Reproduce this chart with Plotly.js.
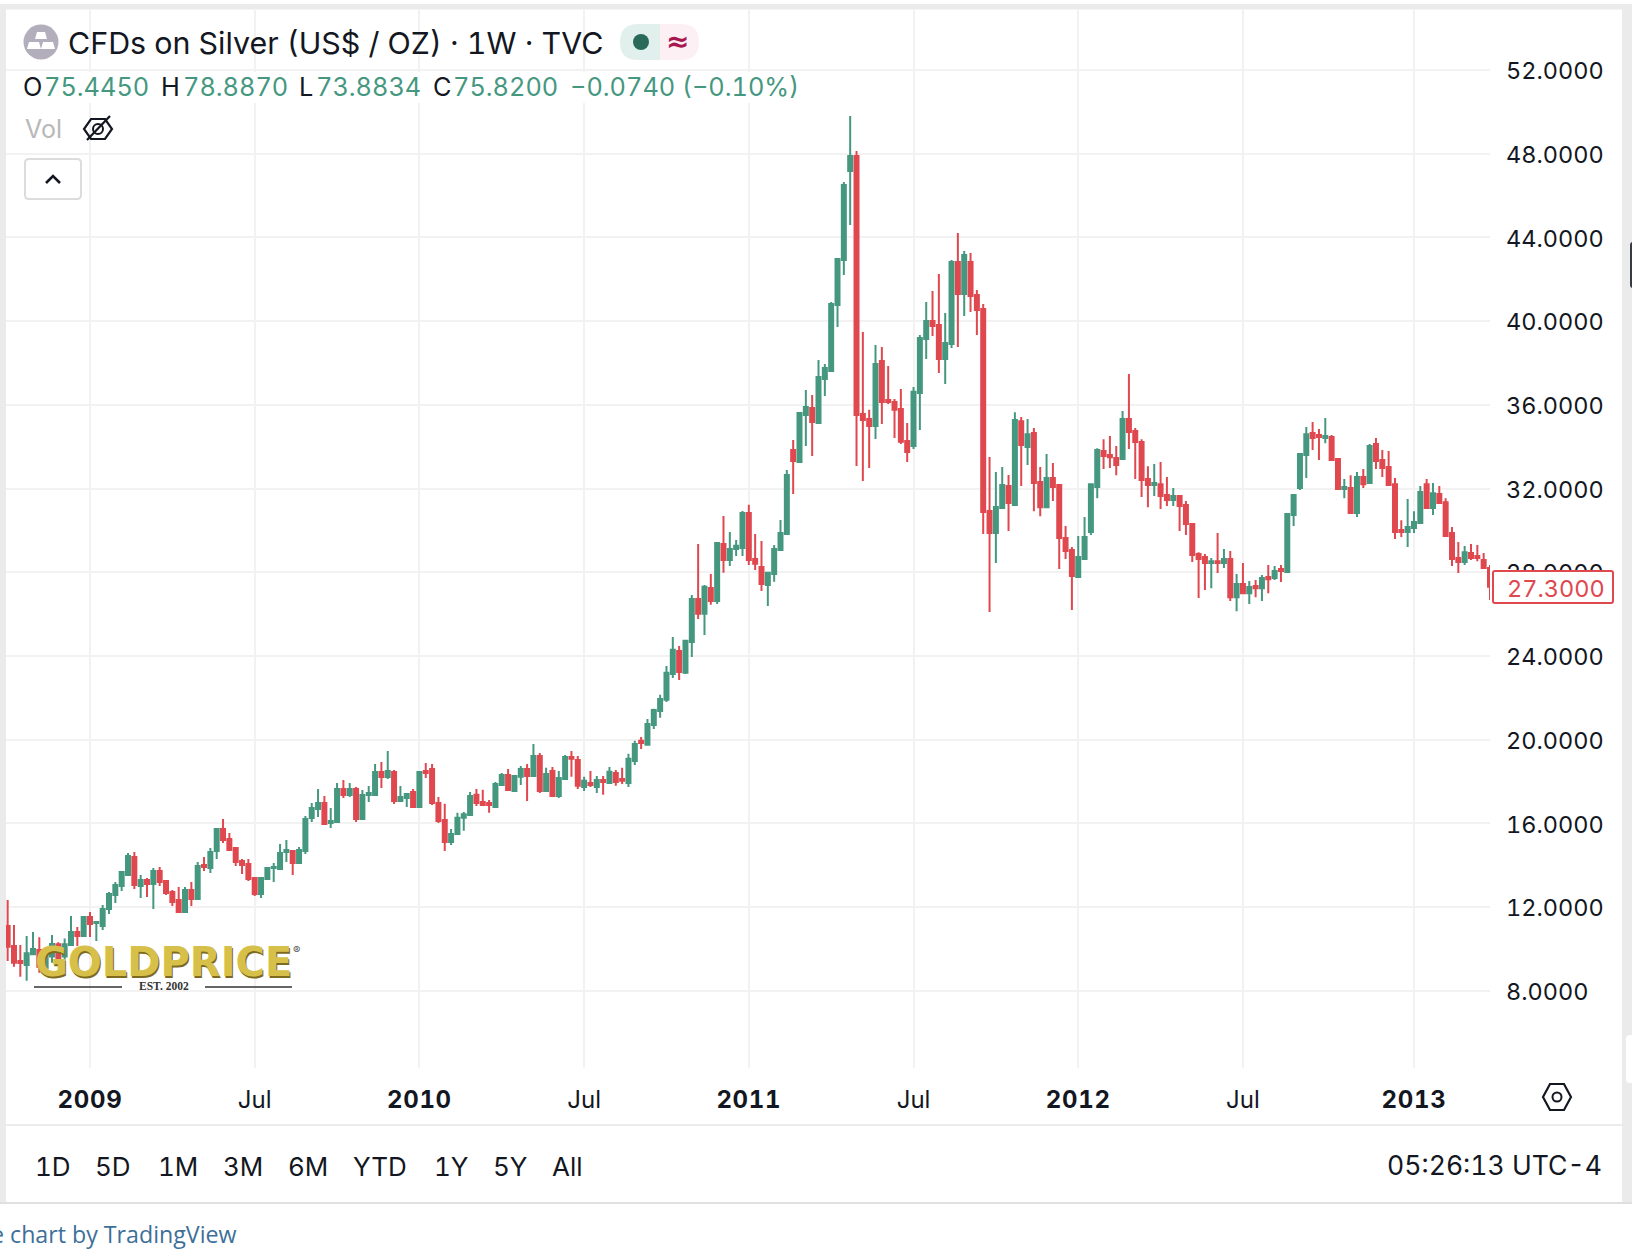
<!DOCTYPE html>
<html><head><meta charset="utf-8">
<script src="https://cdn.plot.ly/plotly-3.0.1.min.js"></script>
<style>html,body{margin:0;padding:0;background:#fff;overflow:hidden}#chart{width:1632px;height:1260px}
svg text{font-variant-numeric:tabular-nums;font-feature-settings:"tnum" 1}
.xtick tspan{letter-spacing:.7px}</style>
</head><body><div id="chart"></div>
<script>
const open_ = [
11.09,10.14,9.42,9.23,9.74,9.95,9.07,9.63,10.22,9.63,
10.18,10.81,10.61,11.52,11.24,11.09,11.90,12.57,13.00,13.53,
14.39,13.00,13.29,13.10,13.72,13.24,12.72,12.33,11.76,12.81,
12.38,14.01,13.86,14.68,15.73,15.25,14.82,14.20,14.06,13.39,
12.62,13.34,13.86,13.82,14.63,14.68,14.10,14.68,16.25,16.68,
16.97,16.02,16.06,17.64,17.35,17.64,16.21,17.35,17.35,18.45,
18.21,18.45,17.07,17.21,17.50,16.78,18.50,18.60,16.97,16.16,
15.11,15.49,16.26,16.40,17.36,17.02,16.97,16.78,17.83,18.31,
17.55,18.22,18.60,18.26,19.22,17.55,18.50,17.31,18.12,19.17,
19.03,17.74,17.93,17.74,18.07,17.93,18.41,18.12,17.93,18.98,
19.94,19.75,20.70,21.37,21.90,23.14,24.24,23.19,24.67,26.72,
26.01,27.25,26.63,29.35,28.59,29.11,29.16,30.83,28.63,28.25,
27.39,27.92,29.06,29.83,33.84,33.27,35.52,35.85,35.13,37.24,
37.62,40.77,42.92,47.18,47.89,35.56,35.32,34.99,38.10,36.23,
36.14,35.80,34.27,34.03,36.57,39.15,40.01,39.82,38.19,38.91,
42.83,41.30,42.83,41.25,40.58,30.93,29.88,31.07,32.12,31.21,
35.22,33.98,34.65,32.31,31.11,32.50,32.17,29.63,29.06,27.77,
28.63,29.92,32.07,33.79,33.60,33.46,33.41,35.32,34.75,34.22,
32.45,32.17,32.21,31.69,31.45,31.64,31.21,30.30,28.87,28.73,
28.44,28.53,28.44,28.63,26.81,27.44,27.00,27.34,27.24,27.77,
27.72,28.15,28.01,30.73,32.02,33.60,34.65,34.56,34.41,34.46,
33.41,31.98,32.02,30.83,32.55,32.26,34.13,33.36,33.03,32.21,
30.02,29.92,30.11,30.35,32.21,31.07,31.74,31.35,29.87,28.68,
28.49,28.92,28.77,28.58,28.20];
const high = [
12.34,11.14,10.18,10.61,10.81,10.55,10.03,10.66,10.31,10.50,
11.57,11.04,11.57,11.76,11.28,12.10,12.72,13.20,13.72,14.58,
14.63,13.53,13.39,13.86,13.91,13.29,12.81,12.96,12.96,13.20,
14.15,14.39,14.82,15.73,16.21,15.54,14.87,14.29,14.29,13.43,
13.43,13.91,14.10,15.01,15.20,14.72,14.87,16.35,16.97,17.64,
17.30,16.73,17.93,18.07,17.93,17.74,17.59,17.78,18.84,18.93,
19.46,18.55,17.78,17.45,17.64,18.45,18.88,18.84,17.26,16.93,
15.73,16.50,16.54,17.50,17.64,17.60,17.12,17.98,18.41,18.60,
18.31,18.74,18.84,19.79,19.36,18.65,18.69,18.50,19.27,19.46,
19.22,18.22,18.50,18.26,18.26,18.69,18.55,18.65,19.32,19.94,
20.13,20.99,21.47,22.14,23.52,24.91,24.48,24.72,26.91,29.35,
27.39,27.92,29.40,30.69,29.92,29.54,30.93,31.22,29.83,29.49,
28.01,29.30,30.50,32.89,34.32,35.61,36.71,36.47,38.14,37.95,
40.92,43.02,46.65,49.81,48.13,39.48,35.76,38.86,38.77,37.86,
36.28,36.76,35.13,36.85,39.34,40.92,41.44,42.25,40.39,42.92,
44.21,43.35,43.26,41.49,40.82,33.51,32.79,33.03,32.65,35.65,
35.42,35.32,34.89,33.03,33.65,33.22,32.21,30.21,29.20,29.73,
30.64,32.21,33.93,34.36,34.51,34.03,35.70,37.47,34.89,34.36,
33.07,33.17,33.27,32.55,32.02,31.69,31.40,30.35,28.96,28.87,
28.68,29.87,29.11,29.01,27.91,28.44,27.58,27.63,27.87,28.34,
28.30,28.34,30.83,31.74,33.70,34.94,35.18,34.84,35.37,34.56,
33.41,32.45,32.64,32.79,32.93,34.13,34.41,33.84,33.79,32.50,
30.49,31.50,30.92,32.12,32.45,32.26,32.12,31.54,30.16,29.44,
29.25,29.35,29.30,28.92,28.34];
const low = [
9.42,9.15,8.67,8.48,9.71,8.86,9.07,9.34,9.47,9.39,
10.18,10.14,10.61,10.57,10.38,10.90,11.67,12.19,12.77,13.53,
12.86,12.43,12.48,11.90,13.00,12.57,12.05,11.76,11.76,12.05,
12.38,13.72,13.63,14.29,15.06,14.72,13.96,13.58,13.24,12.53,
12.43,13.34,13.20,13.82,14.15,13.53,14.06,14.53,16.06,16.30,
15.97,15.78,16.02,17.21,17.26,16.06,16.21,17.02,17.35,17.69,
18.12,16.92,17.07,16.78,16.78,16.78,18.17,16.87,16.02,14.68,
14.96,15.49,15.64,16.35,16.83,16.88,16.50,16.78,17.79,17.59,
17.50,17.83,17.07,18.22,17.45,17.55,17.31,17.21,18.12,18.22,
17.64,17.55,17.74,17.45,17.36,17.93,17.79,17.88,17.74,18.79,
19.55,19.75,20.51,21.04,21.80,22.95,22.85,23.14,23.95,25.77,
25.00,26.44,26.48,27.97,28.30,28.78,28.78,28.35,28.11,27.10,
26.39,27.54,29.02,29.83,31.74,33.27,34.03,33.56,35.13,36.42,
37.62,39.72,42.21,44.60,33.08,32.36,32.98,34.37,35.09,36.04,
34.42,34.13,33.27,33.89,34.80,38.19,39.29,37.52,37.00,38.72,
38.77,40.25,40.44,39.34,29.83,26.10,28.44,31.07,29.97,31.21,
32.12,33.12,30.92,30.68,31.11,31.40,28.15,28.63,26.19,27.77,
28.58,29.78,31.54,32.93,32.98,32.64,33.41,33.89,32.45,31.59,
31.11,31.64,31.02,31.16,31.16,29.97,29.78,28.49,26.77,27.15,
27.24,27.96,28.20,26.62,26.14,26.96,26.48,26.81,26.62,27.00,
27.63,27.53,27.96,30.21,31.93,32.50,33.84,33.36,34.17,33.36,
31.93,31.54,30.83,30.64,32.02,32.26,32.93,32.55,32.17,29.59,
29.68,29.20,29.87,30.35,31.07,30.73,31.31,29.68,28.30,27.96,
28.34,28.58,28.53,28.15,26.67];
const close_ = [
10.10,9.34,9.32,9.79,9.99,9.15,9.63,10.23,9.55,10.22,
10.81,10.61,11.52,11.19,11.28,11.90,12.62,13.05,13.67,14.44,
13.05,13.29,13.10,13.72,13.20,12.67,12.24,11.76,12.81,12.38,
13.96,13.91,14.63,15.73,15.20,14.72,14.15,14.01,13.34,12.62,
13.39,13.86,13.91,14.58,14.72,14.10,14.72,16.21,16.73,16.97,
15.97,16.11,17.64,17.35,17.64,16.21,17.35,17.45,18.45,18.21,
18.50,17.07,17.26,17.40,16.78,18.45,18.41,16.97,16.11,15.11,
15.49,16.26,16.43,17.31,16.97,16.88,16.88,17.88,18.31,17.59,
18.26,18.60,18.26,19.22,17.55,18.36,17.31,18.17,19.17,19.08,
17.79,18.03,17.83,18.07,17.98,18.46,17.98,18.03,19.08,19.79,
19.84,20.75,21.42,21.94,23.19,24.29,23.23,24.72,26.72,26.01,
27.30,26.63,29.40,28.59,29.11,29.26,30.83,28.59,28.40,27.44,
27.97,29.11,29.88,32.65,33.32,35.61,35.90,35.18,37.33,37.76,
40.82,42.97,46.51,47.89,35.52,35.28,34.99,37.95,36.14,36.14,
35.76,34.23,33.75,36.62,39.20,40.01,39.77,38.19,38.96,42.83,
41.30,43.16,41.20,40.53,30.88,29.88,31.12,32.17,31.31,35.27,
34.08,34.60,32.26,31.11,32.50,32.07,29.63,29.01,27.82,28.73,
29.68,32.21,33.84,33.55,33.50,33.12,35.32,34.70,34.22,32.41,
32.17,32.26,31.64,31.45,31.64,31.16,30.30,28.82,28.63,28.44,
28.53,28.44,28.63,26.81,27.44,27.00,27.29,27.24,27.72,27.67,
28.06,28.06,30.78,31.69,33.65,34.60,34.41,34.46,34.51,33.36,
31.98,32.07,30.83,32.55,32.21,34.03,33.31,32.98,32.17,29.92,
29.92,30.16,30.40,31.83,31.07,31.78,31.31,29.73,28.63,28.49,
28.96,28.68,28.68,28.20,27.30];
const priceTicks = [8,12,16,20,24,28,32,36,40,44,48,52];
const timeTickWeeks = [13,39,65,91,117,143,169,195,222];
const timeTickLabels = ['<b>2009</b>','Jul','<b>2010</b>','Jul','<b>2011</b>','Jul','<b>2012</b>','Jul','<b>2013</b>'];
const lastPriceLabel = '27.3000';
const rangeTabs = ['1D','5D','1M','3M','6M','YTD','1Y','5Y','All'];
const ohlcLetters = ['O','H','L','C'];
const ohlcValues = ['75.4450','78.8870','73.8834','75.8200'];

const UP='#45987F', DOWN='#E0484F', INK='#131722', GRID='#f2f2f2', FRAME='#ebebeb';
const FONT='Inter, sans-serif';
const L=6,R=142,T=10,B=192,W=1632-L-R,H=1260-T-B;
const X=p=>(p-L)/W, Y=p=>1-(p-T)/H;

const shapes=[], annotations=[];
function rect(x0,y0,x1,y1,fill,lineColor,lw){shapes.push({type:'rect',xref:'paper',yref:'paper',x0:X(x0),x1:X(x1),y0:Y(y0),y1:Y(y1),fillcolor:fill||'rgba(0,0,0,0)',line:{color:lineColor||'rgba(0,0,0,0)',width:lw||0},layer:'above'});}
function circle(cx,cy,r,fill,lineColor,lw){shapes.push({type:'circle',xref:'paper',yref:'paper',x0:X(cx-r),x1:X(cx+r),y0:Y(cy-r),y1:Y(cy+r),fillcolor:fill||'rgba(0,0,0,0)',line:{color:lineColor||'rgba(0,0,0,0)',width:lw||0},layer:'above'});}
function path(cmds,fill,lineColor,lw){const d=cmds.map(c=>{if(c[0]==='Z')return 'Z';let s=c[0];for(let i=1;i<c.length;i+=2){s+=(i>1?' ':'')+X(c[i])+','+Y(c[i+1]);}return s;}).join(' ');shapes.push({type:'path',xref:'paper',yref:'paper',path:d,fillcolor:fill||'rgba(0,0,0,0)',line:{color:lineColor||'rgba(0,0,0,0)',width:lw||0},layer:'above'});}
function roundRect(x0,y0,x1,y1,r,fill,lineColor,lw){path([['M',x0+r,y0],['L',x1-r,y0],['Q',x1,y0,x1,y0+r],['L',x1,y1-r],['Q',x1,y1,x1-r,y1],['L',x0+r,y1],['Q',x0,y1,x0,y1-r],['L',x0,y0+r],['Q',x0,y0,x0+r,y0],['Z']],fill,lineColor,lw);}
function text(t,x,y,size,color,anchor,family,shadow){const f={family:family||FONT,size:size,color:color||INK};if(shadow)f.shadow=shadow;annotations.push({text:t,xref:'paper',yref:'paper',x:X(x),y:Y(y),xanchor:anchor||'left',yanchor:'middle',showarrow:false,borderpad:0,borderwidth:0,font:f});}

// frame
rect(0,4,1632,9.5,FRAME);
rect(0,4,6,1203,FRAME);
rect(1622,4,1632,1203,FRAME);
rect(6,1124,1622,1126,FRAME);
rect(0,1202,1632,1204,'#e0e0e0');
roundRect(1630,242,1636,288,3,'#363a45');
roundRect(1626,1035,1640,1083,4,'#ffffff');

// legend
rect(22,72,800,103,'#ffffff');
circle(41,42,17.5,'#b2aebb');
path([['M',37,32],['L',45,32],['L',47,39],['L',35,39],['Z']],'#ffffff');
path([['M',29,42],['L',39,42],['L',41,49],['L',27,49],['Z']],'#ffffff');
path([['M',43,42],['L',53,42],['L',55,49],['L',41,49],['Z']],'#ffffff');
text('CFDs on Silver (US$ / OZ) · 1W · TVC',68,43,30.4,INK);
path([['M',660,24],['L',638,24],['Q',620,24,620,42],['Q',620,60,638,60],['L',660,60],['Z']],'#e1f0ec');
path([['M',660,24],['L',681,24],['Q',699,24,699,42],['Q',699,60,681,60],['L',660,60],['Z']],'#fdf0f5');
circle(641,42,8,'#2a6a5a');
text('<b>≈</b>',677,42,28,'#a8184f','center','DejaVu Sans');
const ohlcLetterX=[23,161,299,433], ohlcValueX=[43.5,182.5,316,453];
ohlcLetters.forEach((l,i)=>{text(l,ohlcLetterX[i],86,25.3,INK);text(ohlcValues[i],ohlcValueX[i],86,25.3,UP);});
text('−0.0740 (−0.10%)',570,86,25.3,UP);
text('Vol',25,129,25,'#b8b8b8');
path([['M',91,119],['L',105,119],['L',112,129],['L',105,139],['L',91,139],['L',84,129],['Z']],null,INK,2.2);
circle(98,129,5,null,INK,2);
path([['M',87,140],['L',110,116]],null,INK,2.2);
roundRect(25,159,81,199,4,'#ffffff','#dcdcdc',2);
path([['M',46,183],['L',53,176],['L',60,183]],null,INK,2.6);

// watermark logo
text('<b>GOLDPRICE</b>',163.5,962,40,'#d6c04a','center','DejaVu Sans','1px 1.5px 0 #7d6a1e');
text('®',296,950,11,'#555','center');
rect(34,986.2,122,987.8,'#333');
rect(205,986.2,292,987.8,'#333');
text('<b>EST. 2002</b>',163.5,986,11.5,'#333','center','Liberation Serif');

// last price tag
roundRect(1493,571,1613,603,2,'#ffffff',DOWN,2);
text(lastPriceLabel,1506.5,588.5,23.5,DOWN);

// settings icon
path([['M',1550,1084],['L',1564,1084],['L',1571,1097],['L',1564,1110],['L',1550,1110],['L',1543,1097],['Z']],null,INK,2.2);
circle(1557,1097,4.5,null,INK,2);

// bottom bar
const tabX=[35,95,158,223,288,353,434,493,552];
rangeTabs.forEach((t,i)=>text(t,tabX[i],1166,26,INK));
text('05:26:13 UTC-4',1602,1165,26.6,INK,'right');
text('e chart by TradingView',237,1234,23.2,'#3d6f99','right','Open Sans');

const weekIndex = open_.map((_,i)=>i);
Plotly.newPlot('chart',[{
  type:'candlestick',x:weekIndex,open:open_,high:high,low:low,close:close_,
  increasing:{line:{color:UP,width:2},fillcolor:UP},
  decreasing:{line:{color:DOWN,width:2},fillcolor:DOWN},
  whiskerwidth:0,hoverinfo:'skip',showlegend:false
}],{
  width:1632,height:1260,margin:{l:L,r:R,t:T,b:B,pad:0},
  paper_bgcolor:'#fff',plot_bgcolor:'#fff',boxgap:0.1,boxgroupgap:0.3,showlegend:false,
  xaxis:{type:'linear',range:[-0.26,234],tickmode:'array',tickvals:timeTickWeeks,ticktext:timeTickLabels,
    showgrid:true,gridcolor:GRID,gridwidth:2,zeroline:false,showline:false,ticks:'',ticklabelstandoff:15,
    tickfont:{family:FONT,size:24,color:INK},rangeslider:{visible:false},fixedrange:true},
  yaxis:{type:'linear',side:'right',range:[4.306,54.87],tickmode:'array',tickvals:priceTicks,tickformat:'.4f',
    showgrid:true,gridcolor:GRID,gridwidth:2,zeroline:false,showline:false,ticks:'',ticklabelstandoff:15,ticklabelshift:1,
    tickfont:{family:FONT,size:23.5,color:INK},fixedrange:true},
  shapes:shapes,annotations:annotations
},{staticPlot:true,displayModeBar:false});
</script></body></html>
